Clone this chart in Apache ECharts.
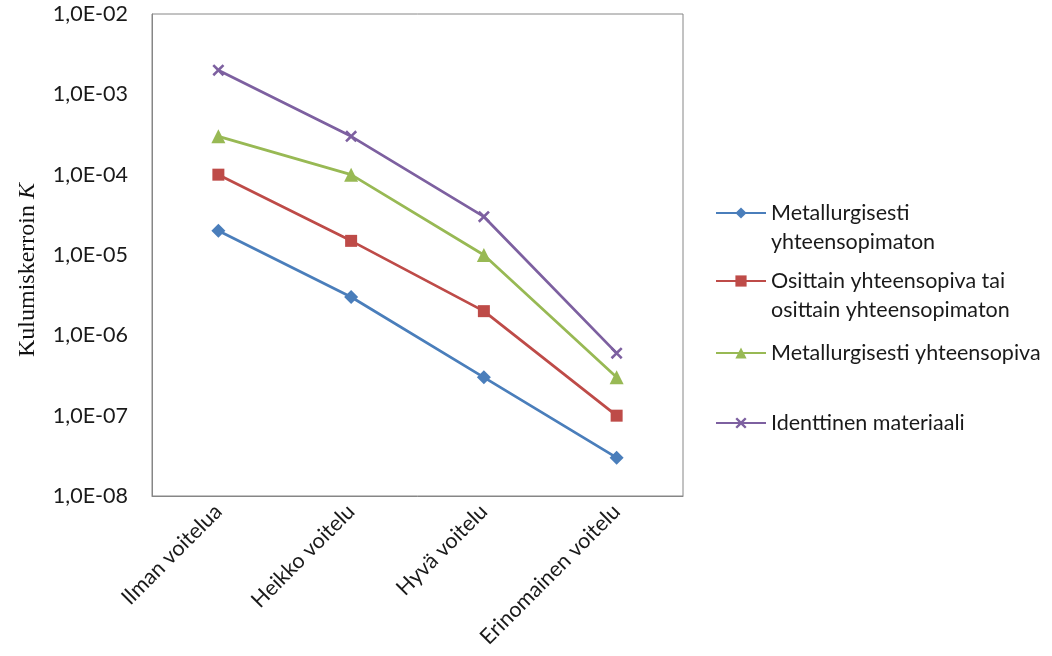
<!DOCTYPE html>
<html><head><meta charset="utf-8">
<script src="https://cdn.jsdelivr.net/npm/echarts@6/dist/echarts.min.js"></script>
<style>html,body{margin:0;padding:0;background:#fff}#c{width:1052px;height:656px}</style>
</head><body><div id="c"></div>
<script>
var categories = ['Ilman voitelua', 'Heikko voitelu', 'Hyvä voitelu', 'Erinomainen voitelu'];
var seriesNames = ['Metallurgisesti\nyhteensopimaton', 'Osittain yhteensopiva tai\nosittain yhteensopimaton', 'Metallurgisesti yhteensopiva', 'Identtinen materiaali'];
var metYhteensopimaton = [2e-5, 3e-6, 3e-7, 3e-8];
var osittain = [1e-4, 1.5e-5, 2e-6, 1e-7];
var metYhteensopiva = [3e-4, 1e-4, 1e-5, 3e-7];
var identtinen = [2e-3, 3e-4, 3e-5, 6e-7];
var yTickLabels = ['1,0E-08', '1,0E-07', '1,0E-06', '1,0E-05', '1,0E-04', '1,0E-03', '1,0E-02'];

var FONT = 'Lato';
var FS = 21.5;
var colors = ['#4A7EBB', '#BE4B48', '#98B954', '#7D60A0'];
var xPath = 'path://M0,1.5 L1.5,0 L5,3.5 L8.5,0 L10,1.5 L6.5,5 L10,8.5 L8.5,10 L5,6.5 L1.5,10 L0,8.5 L3.5,5 Z';
var symbols = ['diamond', 'rect', 'triangle', xPath];
var symSizes = [14, 12, 14, 12];
var dataSets = [metYhteensopimaton, osittain, metYhteensopiva, identtinen];

var chart = echarts.init(document.getElementById('c'), null, {renderer: 'canvas'});

var LH = 29;
var iconY = [213, 281, 353, 423];
var legends = seriesNames.map(function (n, i) {
  var twoLine = n.indexOf('\n') >= 0;
  var boxH = twoLine ? 3 * LH : LH;
  return {
    orient: 'vertical', left: 715, top: iconY[i] - boxH / 2, padding: 0,
    itemWidth: 50, itemHeight: 14, itemGap: 0, selectedMode: false,
    data: [n],
    formatter: function (name) { return name.indexOf('\n') >= 0 ? ' \n' + name : name; },
    textStyle: {fontFamily: FONT, fontSize: FS, color: '#1a1a1a', lineHeight: LH}
  };
});

chart.setOption({
  animation: false,
  color: colors,
  grid: {left: 152, right: 369, top: 14, bottom: 160, show: true, borderColor: '#868686', borderWidth: 1, containLabel: false},
  legend: legends,
  xAxis: {
    type: 'category', data: categories, boundaryGap: true,
    axisLine: {show: true, lineStyle: {color: '#868686', width: 1}},
    axisTick: {show: false},
    axisLabel: {rotate: 45, fontFamily: FONT, fontSize: FS, color: '#1a1a1a', margin: 12, interval: 0}
  },
  yAxis: {
    type: 'log', logBase: 10, min: 1e-8, max: 1e-2,
    name: 'Kulumiskerroin {i|K}', nameLocation: 'middle', nameGap: 112,
    nameTextStyle: {fontFamily: 'Liberation Serif', fontSize: 24, color: '#111', padding: [0, 30, 0, 0],
      rich: {i: {fontFamily: 'Liberation Serif', fontStyle: 'italic', fontSize: 24, color: '#111'}}},
    axisLine: {show: true, lineStyle: {color: '#868686'}},
    axisTick: {show: false},
    splitLine: {show: false},
    axisLabel: {fontFamily: FONT, fontSize: FS, color: '#1a1a1a', margin: 24,
      formatter: function (v) { var e = Math.round(Math.log10(v)); return yTickLabels[e + 8]; }}
  },
  series: dataSets.map(function (d, i) {
    return {
      name: seriesNames[i], type: 'line', data: d,
      symbol: symbols[i], symbolSize: symSizes[i],
      lineStyle: {width: 2.75, color: colors[i]},
      itemStyle: {color: colors[i]}
    };
  })
});
</script></body></html>
